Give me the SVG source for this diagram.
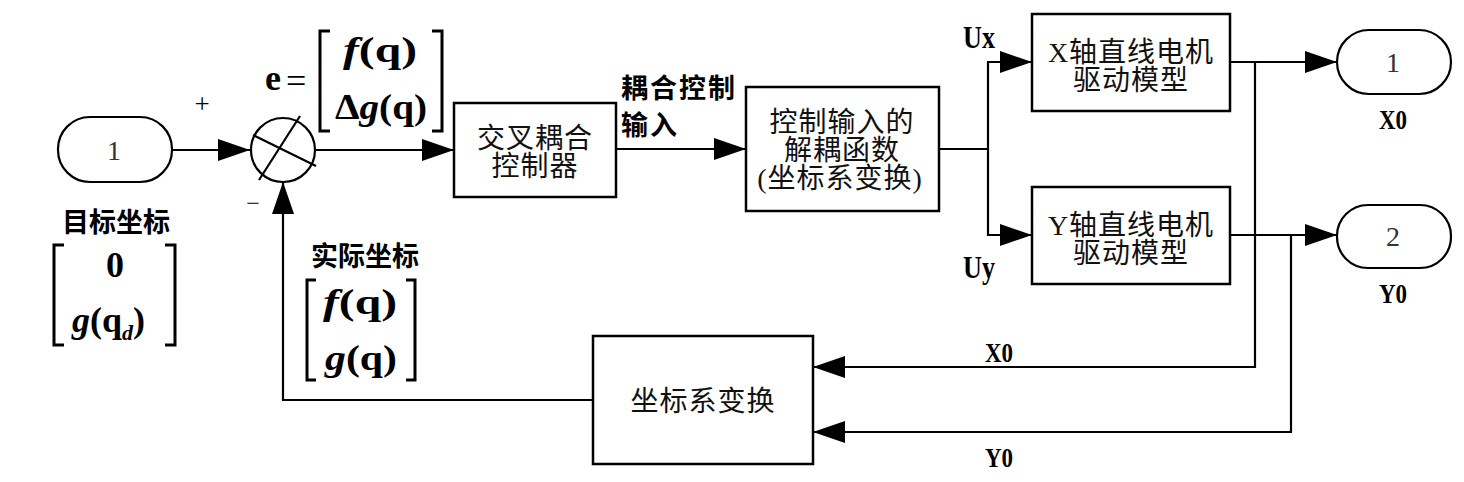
<svg xmlns="http://www.w3.org/2000/svg" width="1464" height="482" viewBox="0 0 1464 482">
<style>
.box{fill:#fff;stroke:#000;stroke-width:2.5}
.term{fill:#fff;stroke:#000;stroke-width:2.2}
.ln{fill:none;stroke:#000;stroke-width:2.2}
.br{fill:none;stroke:#000;stroke-width:3}
.cjk{font-family:"Liberation Serif","Noto Sans CJK SC",serif;font-size:28px;letter-spacing:1px;fill:#111;text-anchor:middle;dominant-baseline:central}
.bcjk{font-family:"Noto Sans CJK SC",sans-serif;font-size:27px;font-weight:bold;fill:#000}
.num{font-family:"Liberation Serif",serif;font-size:28px;fill:#333;text-anchor:middle;dominant-baseline:central}
.lab{font-family:"Liberation Serif",serif;font-weight:bold;fill:#000}
.sign{font-family:"Liberation Serif",serif;fill:#000;text-anchor:middle}
.m{font-family:"Liberation Serif",serif;font-weight:bold;font-size:36px;fill:#000}
.it{font-style:italic}
</style>
<defs>
<marker id="ah" markerUnits="userSpaceOnUse" markerWidth="32" markerHeight="22" refX="32" refY="11" orient="auto">
<path d="M0,0 L32,11 L0,22 z" fill="#000"/>
</marker>
</defs>

<g id="connectors">
<path class="ln" d="M172,150 H250" marker-end="url(#ah)"/>
<path class="ln" d="M315,150 H454" marker-end="url(#ah)"/>
<path class="ln" d="M616,149 H746" marker-end="url(#ah)"/>
<path class="ln" d="M939,149 H988 V62 H1032" marker-end="url(#ah)"/>
<path class="ln" d="M988,149 V235 H1032" marker-end="url(#ah)"/>
<path class="ln" d="M1230,62 H1337" marker-end="url(#ah)"/>
<path class="ln" d="M1255,62 V367 H813" marker-end="url(#ah)"/>
<path class="ln" d="M1230,235 H1337" marker-end="url(#ah)"/>
<path class="ln" d="M1291,235 V432 H813" marker-end="url(#ah)"/>
<path class="ln" d="M593,400 H283 V182" marker-end="url(#ah)"/>
</g>

<g id="in1">
<rect class="term" x="58" y="117" width="114" height="65" rx="32" ry="32"/>
<text class="num" x="114" y="150">1</text>
</g>

<g id="sum">
<circle class="term" cx="283" cy="150" r="32"/>
<line class="ln" x1="253" y1="135" x2="316" y2="166"/>
<line class="ln" x1="300" y1="116" x2="259" y2="180"/>
<text class="sign" x="202" y="113" font-size="27">+</text>
<text class="sign" x="253" y="211" font-size="24">−</text>
</g>

<g id="ctrl">
<rect class="box" x="454" y="103" width="162" height="94"/>
<text class="cjk" x="535" y="138">交叉耦合</text>
<text class="cjk" x="535" y="166">控制器</text>
</g>

<g id="decouple">
<rect class="box" x="746" y="87" width="193" height="124"/>
<text class="cjk" x="842" y="122">控制输入的</text>
<text class="cjk" x="842" y="150">解耦函数</text>
<text class="cjk" x="840" y="178">(坐标系变换)</text>
</g>

<g id="xmotor">
<rect class="box" x="1032" y="14" width="198" height="97"/>
<text class="cjk" x="1131" y="52">X轴直线电机</text>
<text class="cjk" x="1131" y="80">驱动模型</text>
</g>

<g id="ymotor">
<rect class="box" x="1032" y="187" width="198" height="97"/>
<text class="cjk" x="1131" y="225">Y轴直线电机</text>
<text class="cjk" x="1131" y="253">驱动模型</text>
</g>

<g id="out1">
<rect class="term" x="1337" y="30" width="114" height="64" rx="32" ry="32"/>
<text class="num" x="1393" y="62">1</text>
<text class="lab" x="1379" y="129" font-size="28" textLength="28" lengthAdjust="spacingAndGlyphs">X0</text>
</g>

<g id="out2">
<rect class="term" x="1337" y="205" width="114" height="63" rx="31" ry="31"/>
<text class="num" x="1393" y="236">2</text>
<text class="lab" x="1379" y="303" font-size="28" textLength="28" lengthAdjust="spacingAndGlyphs">Y0</text>
</g>

<g id="transform">
<rect class="box" x="593" y="336" width="220" height="128"/>
<text class="cjk" x="703" y="401">坐标系变换</text>
</g>

<g id="labels">
<text class="lab" x="963" y="48" font-size="32" textLength="32" lengthAdjust="spacingAndGlyphs">Ux</text>
<text class="lab" x="963" y="278" font-size="32" textLength="32" lengthAdjust="spacingAndGlyphs">Uy</text>
<text class="lab" x="985" y="362" font-size="28" textLength="28" lengthAdjust="spacingAndGlyphs">X0</text>
<text class="lab" x="985" y="467" font-size="28" textLength="28" lengthAdjust="spacingAndGlyphs">Y0</text>
<text class="bcjk" x="621" y="98" font-size="25" letter-spacing="2">耦合控制</text>
<text class="bcjk" x="621" y="135" font-size="25" letter-spacing="2">输入</text>
<text class="bcjk" x="116" y="232" text-anchor="middle">目标坐标</text>
<text class="bcjk" x="365" y="266" text-anchor="middle">实际坐标</text>
</g>

<g id="e-matrix">
<text class="m" x="265" y="90">e</text>
<text class="m" x="286" y="93" style="font-weight:normal">=</text>
<path class="br" d="M330,31 H320 V131 H330"/>
<path class="br" d="M432,31 H442 V131 H432"/>
<text class="m" x="343" y="62" textLength="74" lengthAdjust="spacingAndGlyphs"><tspan class="it">f</tspan>(q)</text>
<text class="m" x="335" y="119" textLength="92" lengthAdjust="spacingAndGlyphs">Δ<tspan class="it">g</tspan>(q)</text>
</g>

<g id="target-matrix">
<path class="br" d="M64,245 H54 V345 H64"/>
<path class="br" d="M165,245 H175 V345 H165"/>
<text class="m" x="115" y="277" text-anchor="middle">0</text>
<text class="m" x="72" y="332"><tspan class="it">g</tspan>(q<tspan class="it" font-size="22" dy="8">d</tspan><tspan dy="-8">)</tspan></text>
</g>

<g id="actual-matrix">
<path class="br" d="M316,280 H307 V380 H316"/>
<path class="br" d="M406,280 H415 V380 H406"/>
<text class="m" x="323" y="314" font-size="33" textLength="74" lengthAdjust="spacingAndGlyphs"><tspan class="it">f</tspan>(q)</text>
<text class="m" x="325" y="370" font-size="33" textLength="72" lengthAdjust="spacingAndGlyphs"><tspan class="it">g</tspan>(q)</text>
</g>
</svg>
